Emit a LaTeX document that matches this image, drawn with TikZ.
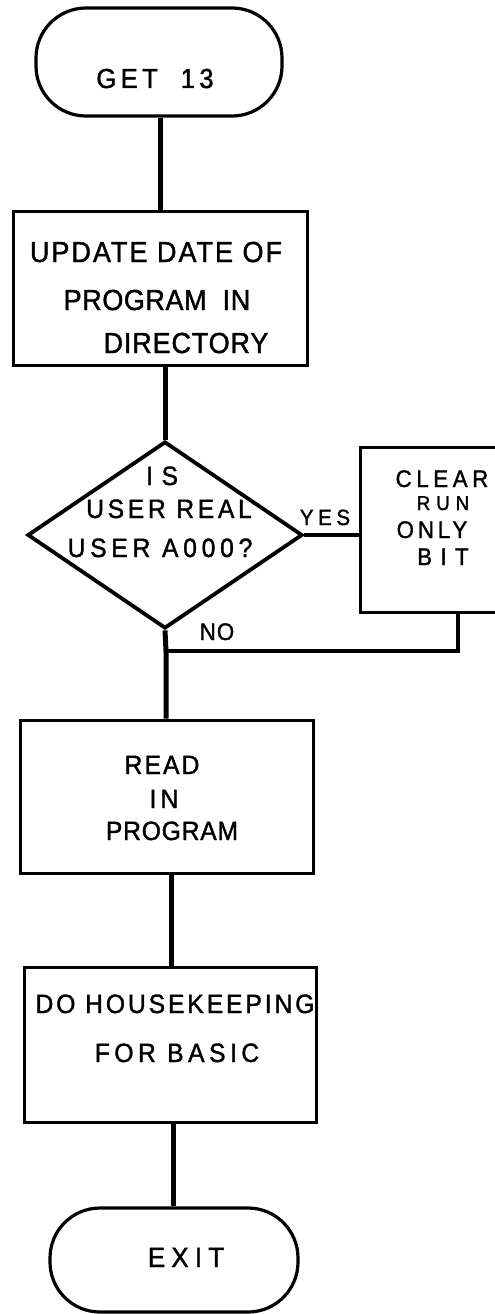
\documentclass[tikz,border=0pt]{standalone}
\usepackage{fontspec}
\setmainfont{Liberation Sans}[FakeBold=1.4,FakeStretch=0.93]
\usetikzlibrary{shapes.geometric}
\newcommand{\ls}[1]{\addfontfeature{LetterSpace=#1}}
\begin{document}
\begin{tikzpicture}[x=1pt,y=-1pt,
  box/.style={draw,line width=3pt,rectangle,inner sep=0pt},
  term/.style={draw,line width=3.2pt,rectangle,rounded corners=50pt,inner sep=0pt},
  dia/.style={draw,line width=3.8pt,diamond,inner sep=0pt},
  txt/.style={font=\fontsize{26.5}{26.5}\selectfont,anchor=base,inner sep=0pt},
  conn/.style={line width=5pt}]
\useasboundingbox (0,0) rectangle (495,1314);
% shapes
\node[term,minimum width=246pt,minimum height=108pt] (start) at (159,62) {};
\node[box,minimum width=294pt,minimum height=154pt] (upd) at (160.5,288) {};
\node[dia,minimum width=275pt,minimum height=187pt] (dec) at (165,535) {};
\node[rectangle,inner sep=0pt,minimum width=194pt,minimum height=164pt] (clr) at (458,530) {};
\draw[line width=3pt] (clr.north east) -- (clr.north west) -- (clr.south west) -- (clr.south east);
\node[box,minimum width=293pt,minimum height=153pt] (read) at (166.5,796.5) {};
\node[box,minimum width=292pt,minimum height=155pt] (house) at (170,1044.5) {};
\node[term,minimum width=248pt,minimum height=104pt] (exit) at (174,1260) {};
% texts
\node[txt,font=\fontsize{27.5}{27.5}\selectfont] (tstart) at (155,88) {\ls{16}GET\ \ 13};
\node[txt,font=\fontsize{29}{29}\selectfont] (tu1) at (156,262) {\ls{7}UPDATE DATE OF};
\node[txt,font=\fontsize{29}{29}\selectfont] (tu2) at (157,310) {\ls{2}PROGRAM\ \ IN};
\node[txt,font=\fontsize{29}{29}\selectfont] (tu3) at (186,353) {\ls{3}DIRECTORY};
\node[txt] (td1) at (162,485) {\ls{33}IS};
\node[txt] (td2) at (169,518) {\ls{14}USER REAL};
\node[txt] (td3) at (160,557) {\ls{18}USER A000?};
\node[txt,font=\fontsize{24}{24}\selectfont] (tc1) at (442,487) {\ls{19}CLEAR};
\node[txt,font=\fontsize{20}{20}\selectfont] (tc2) at (443,510) {\ls{30}RUN};
\node[txt,font=\fontsize{24}{24}\selectfont] (tc3) at (432,538) {\ls{16}ONLY};
\node[txt,font=\fontsize{24}{24}\selectfont] (tc4) at (443,565) {\ls{35}BIT};
\node[txt,font=\fontsize{22}{22}\selectfont] (tyes) at (325,525) {\ls{21}YES};
\node[txt,font=\fontsize{24}{24}\selectfont] (tno) at (217,640) {\ls{4}NO};
\node[txt] (tr1) at (162,774) {\ls{8}READ};
\node[txt] (tr2) at (164,808) {\ls{16}IN};
\node[txt] (tr3) at (172,840) {\ls{3}PROGRAM};
\node[txt] (th1) at (175,1013) {\ls{11}DO HOUSEKEEPING};
\node[txt] (th2) at (177,1062) {\ls{17}FOR BASIC};
\node[txt,font=\fontsize{28}{28}\selectfont] (tex) at (186,1267) {\ls{22}EXIT};
% connectors
\coordinate (j) at (166,651);
\draw[conn] (start.south -| 160,0) -- (160,0 |- upd.north);
\draw[conn] (dec.north |- upd.south) -- (dec.north);
\draw[conn,line width=3.5pt] (dec.east) -- (dec.east -| clr.west);
\draw[conn,line width=3.5pt] (clr.south) -- (clr.south |- j) -- (j);
\draw[conn] (dec.south) -- (j) -- (j |- read.north);
\draw[conn] (171,0 |- read.south) -- (171,0 |- house.north);
\draw[conn] (173,0 |- house.south) -- (173,0 |- exit.north);
\end{tikzpicture}
\end{document}
